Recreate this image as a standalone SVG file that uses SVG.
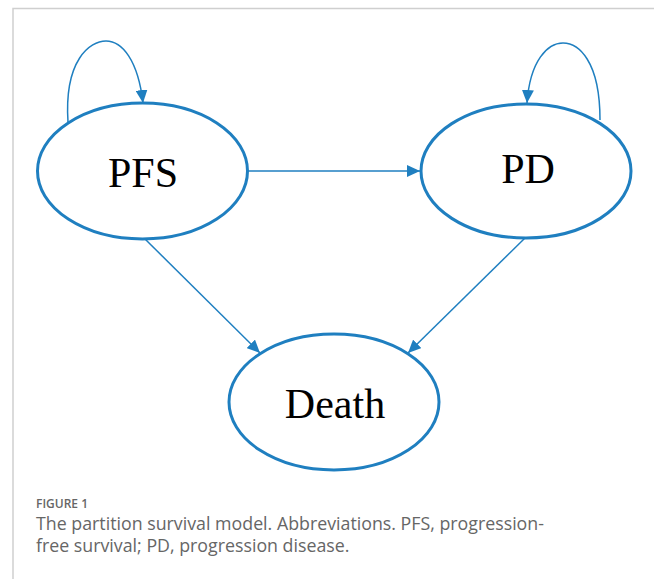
<svg xmlns="http://www.w3.org/2000/svg" width="654" height="579" viewBox="0 0 654 579">
<defs>
<marker id="ah" markerWidth="14" markerHeight="12" refX="13" refY="6" orient="auto" markerUnits="userSpaceOnUse">
<path d="M0,0 L13,6 L0,12 Z" fill="#1f7fc0"/>
</marker>
<style>
.node{fill:#fff;stroke:#1f7fc0;stroke-width:3}
.lbl{font-family:"Liberation Serif","Times New Roman",serif;font-size:42px;fill:#000;text-anchor:middle}
.edge{fill:none;stroke:#1f7fc0;stroke-width:1.5;marker-end:url(#ah)}
.cap{font-family:"Open Sans","Liberation Sans",sans-serif;fill:#666}
</style>
</defs>
<rect width="654" height="579" fill="#fff"/>
<path d="M13,579 L13,8.5 L654,8.5" fill="none" stroke="#cfcfcf" stroke-width="1.5"/>
<g id="connectors">
<path class="edge" d="M68,122 C64,60 90,41 106,41 C122,41 138,60 143,103"/>
<path class="edge" d="M600,120 C600,60 578,43 563,43 C548,43 530,60 527,103"/>
<path class="edge" d="M248,171 L420,171"/>
<path class="edge" d="M144,238 L260,353"/>
<path class="edge" d="M525,238 L408,353"/>
</g>
<g id="PFS">
<ellipse class="node" cx="142.5" cy="171" rx="105" ry="68"/>
<text class="lbl" x="143" y="187">PFS</text>
</g>
<g id="PD">
<ellipse class="node" cx="526" cy="171" rx="105" ry="67"/>
<text class="lbl" x="528" y="183">PD</text>
</g>
<g id="Death">
<ellipse class="node" cx="334" cy="402" rx="105" ry="68"/>
<text class="lbl" x="335" y="418">Death</text>
</g>
<g id="caption">
<text class="cap" x="36" y="508" font-size="12" font-weight="600">FIGURE 1</text>
<text class="cap" x="36" y="530" font-size="17.8">The partition survival model. Abbreviations. PFS, progression-</text>
<text class="cap" x="36" y="552" font-size="17.8">free survival; PD, progression disease.</text>
</g>
</svg>
